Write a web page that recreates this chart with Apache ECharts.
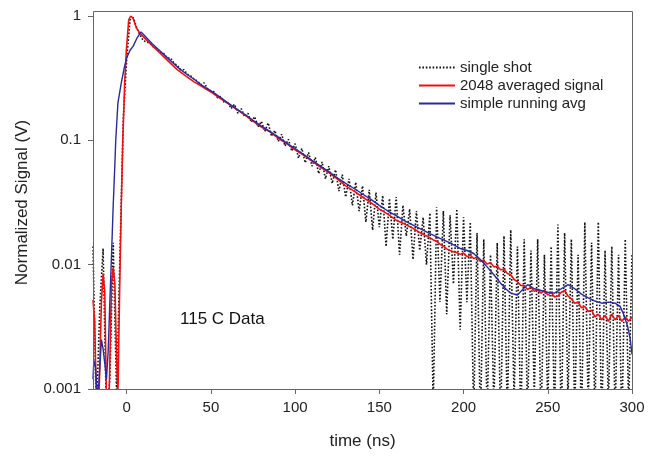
<!DOCTYPE html>
<html>
<head>
<meta charset="utf-8">
<script src="https://cdn.jsdelivr.net/npm/echarts@6/dist/echarts.min.js"></script>
<style>
  html, body { margin: 0; padding: 0; background: #fff; }
  #chart { width: 648px; height: 457px; }
</style>
</head>
<body>
<div id="chart"></div>
<script>
// tick labels
const xTicks = [0, 50, 100, 150, 200, 250, 300];
const yTickLabels = ['0.001', '0.01', '0.1', '1'];

// single shot, sampled every 2 ns from -20 to 300
const shotStart = -20;
const shotStep = 2;
const shotVal = [
  0.014, 0.0006, 0.0045, 0.0135, 0.0006, 0.0012, 0.015, 0.0009, 0.012, 0.15,   // -20
  0.45, 0.93, 0.97, 0.80, 0.70, 0.63, 0.62, 0.60, 0.56, 0.55,                   // 0
  0.51, 0.50, 0.46, 0.46, 0.42, 0.40, 0.37, 0.37, 0.34, 0.33,                   // 20
  0.31, 0.30, 0.28, 0.29, 0.26, 0.25, 0.245, 0.22, 0.225, 0.20,                 // 40
  0.205, 0.18, 0.195, 0.165, 0.18, 0.155, 0.165, 0.14, 0.155, 0.128,            // 60
  0.142, 0.118, 0.138, 0.108, 0.12, 0.098, 0.112, 0.09, 0.102, 0.082,           // 80
  0.094, 0.072, 0.086, 0.066, 0.08, 0.062, 0.073, 0.054, 0.067, 0.049,          // 100
  0.062, 0.045, 0.058, 0.039, 0.053, 0.035, 0.049, 0.03, 0.046, 0.027,          // 120
  0.043, 0.022, 0.040, 0.019, 0.038, 0.02, 0.036, 0.014, 0.034, 0.016,          // 140
  0.035, 0.012, 0.03, 0.017, 0.028, 0.011, 0.027, 0.013, 0.024, 0.01,           // 160
  0.026, 0.0007, 0.029, 0.005, 0.027, 0.004, 0.025, 0.007, 0.028, 0.003,        // 180
  0.024, 0.005, 0.022, 0.0006, 0.018, 0.0005, 0.016, 0.0006, 0.012, 0.0007,     // 200
  0.015, 0.0005, 0.017, 0.0006, 0.019, 0.0008, 0.014, 0.0005, 0.016, 0.0006,    // 220
  0.013, 0.0009, 0.016, 0.0005, 0.012, 0.0007, 0.014, 0.0006, 0.021, 0.0005,    // 240
  0.018, 0.0008, 0.016, 0.0006, 0.012, 0.0005, 0.022, 0.0007, 0.015, 0.0006,    // 260
  0.022, 0.0005, 0.013, 0.0007, 0.014, 0.0006, 0.012, 0.0005, 0.016, 0.0007,    // 280
  0.012                                                                         // 300
];

// 2048 averaged signal
const avgTime = [
  -20, -19, -18, -16.5, -15, -14, -13, -12, -10.5, -9, -8, -7, -6, -5.2, -4.2, -3.2, -2.3, -1.2, -0.2,
  1.2, 2.4, 3.8, 5.8, 7.7, 10, 15, 20, 25, 30, 35, 40, 45, 50, 55, 60, 65, 70, 75, 80, 85, 90, 95,
  100, 105, 110, 115, 120, 125, 130, 135, 140, 145, 150, 155, 160, 165, 170, 175, 180,
  182, 184, 186, 188, 190, 192, 194, 196, 198, 200,
  202, 204, 206, 208, 210, 212, 214, 216, 218, 220,
  222, 224, 226, 228, 230, 232, 234, 236, 238, 240,
  242, 244, 246, 248, 250, 252, 254, 256, 258, 260,
  262, 264, 266, 268, 270, 272, 274, 276, 278, 280,
  282, 284, 286, 288, 290, 292, 294, 296, 298, 300
];
const avgVal = [
  0.0052, 0.0035, 0.0008, 0.0008, 0.005, 0.0085, 0.006, 0.0008, 0.0008, 0.007, 0.0095, 0.007, 0.0018, 0.0009, 0.006, 0.03, 0.1, 0.29, 0.53,
  0.93, 1.0, 0.96, 0.80, 0.73, 0.68, 0.58, 0.50, 0.43, 0.37, 0.33, 0.295, 0.27, 0.245, 0.22, 0.198, 0.178, 0.16, 0.143, 0.128, 0.117, 0.104, 0.094,
  0.084, 0.076, 0.068, 0.061, 0.055, 0.049, 0.043, 0.039, 0.035, 0.0315, 0.028, 0.0255, 0.0228, 0.0212, 0.0196, 0.0178, 0.0165,
  0.0158, 0.0154, 0.0146, 0.0141, 0.0134, 0.0130, 0.0127, 0.0125, 0.0121, 0.0124,
  0.0116, 0.0119, 0.0112, 0.0115, 0.0106, 0.0108, 0.0101, 0.0104, 0.0096, 0.0097,
  0.0091, 0.0092, 0.0085, 0.0083, 0.0076, 0.0073, 0.0068, 0.0068, 0.0063, 0.0066,
  0.0061, 0.0063, 0.0059, 0.0062, 0.0057, 0.0060, 0.0055, 0.0056, 0.0060, 0.0062,
  0.0056, 0.0053, 0.0049, 0.0050, 0.0045, 0.0046, 0.0042, 0.0043, 0.0038, 0.0040,
  0.0036, 0.0039, 0.0035, 0.0040, 0.0036, 0.0039, 0.0035, 0.0038, 0.0035, 0.0038
];

// simple running avg
const runTime = [
  -20, -19.5, -18.5, -17.5, -16.5, -15, -14, -13, -12, -11, -10, -9, -8, -7, -6.5, -5.2, -3.2, -1.5,
  0, 2, 3.8, 6, 8.5, 10, 15, 20, 25, 30, 35, 40, 45, 50, 55, 60, 65, 70, 75, 80, 85, 90, 95,
  100, 105, 110, 115, 120, 125, 130, 135, 140, 145, 150, 155, 160, 165, 170, 175, 180,
  186, 192, 198, 202, 206, 210, 214, 218, 222, 225, 228, 232, 235, 238, 242, 246, 250, 254,
  258, 262, 266, 270, 274, 278, 282, 286, 290, 293, 295, 297.4, 299, 300
];
const runVal = [
  0.0012, 0.0017, 0.0015, 0.0009, 0.0011, 0.0025, 0.0021, 0.0016, 0.0012, 0.002, 0.005, 0.012, 0.03, 0.065, 0.1, 0.2, 0.29, 0.38,
  0.46, 0.53, 0.57, 0.66, 0.745, 0.71, 0.60, 0.52, 0.45, 0.39, 0.345, 0.31, 0.275, 0.25, 0.225, 0.2, 0.18, 0.162, 0.145, 0.13, 0.118, 0.106, 0.095,
  0.086, 0.077, 0.069, 0.062, 0.056, 0.050, 0.045, 0.041, 0.037, 0.0335, 0.030, 0.027, 0.0248, 0.0225, 0.0208, 0.0192, 0.0178,
  0.0163, 0.0150, 0.0135, 0.0130, 0.0123, 0.0110, 0.0096, 0.0083, 0.0071, 0.0064, 0.0059, 0.0057, 0.0063, 0.0069, 0.0064, 0.0062, 0.0060, 0.0059,
  0.0064, 0.0069, 0.0064, 0.0058, 0.0054, 0.0051, 0.0049, 0.0050, 0.0049, 0.0046, 0.0040, 0.0032, 0.0025, 0.0019
];

const font = 'Liberation Sans, Arial, Helvetica, sans-serif';

function pairs(times, vals) {
  return vals.map((v, i) => [times[i], v]);
}

const shotTime = shotVal.map((v, i) => shotStart + i * shotStep);

function getOptions() {
  return {
    animation: false,
    backgroundColor: '#fff',
    textStyle: { fontFamily: font },
    grid: { left: 93, top: 16, width: 539, height: 373 },
    legend: {
      orient: 'vertical',
      left: 413,
      top: 55,
      itemWidth: 36,
      itemHeight: 14,
      itemGap: 3,
      itemStyle: { opacity: 0 },
      textStyle: { fontSize: 15, color: '#222', fontFamily: font },
      data: ['single shot', '2048 averaged signal', 'simple running avg'],
    },
    xAxis: {
      type: 'value',
      min: -20,
      max: 300,
      name: 'time (ns)',
      nameLocation: 'middle',
      nameGap: 44,
      nameTextStyle: { fontSize: 17, color: '#222', fontFamily: font },
      axisLine: { onZero: false, lineStyle: { color: '#666' } },
      axisTick: { customValues: xTicks, length: 5, lineStyle: { color: '#666' } },
      axisLabel: { customValues: xTicks, fontSize: 15, color: '#222', margin: 11, fontFamily: font },
      splitLine: { show: false },
    },
    yAxis: {
      type: 'log',
      logBase: 10,
      min: 0.001,
      max: 1,
      name: 'Normalized Signal (V)',
      nameLocation: 'middle',
      nameGap: 62,
      nameTextStyle: { fontSize: 17, color: '#222', fontFamily: font },
      axisLine: { show: true, onZero: false, lineStyle: { color: '#666' } },
      axisTick: { show: true, length: 5, lineStyle: { color: '#666' } },
      minorTick: { show: false },
      axisLabel: {
        fontSize: 15,
        color: '#222',
        margin: 12,
        fontFamily: font,
        formatter: (v) => yTickLabels[Math.round(Math.log10(v)) + 3],
      },
      splitLine: { show: false },
    },
    graphic: [
      {
        type: 'rect',
        silent: true,
        z: 100,
        shape: { x: 93.5, y: 11.5, width: 539, height: 378 },
        style: { fill: 'none', stroke: '#666', lineWidth: 1 },
      },
      {
        type: 'text',
        left: 180,
        top: 311,
        style: { text: '115 C Data', fontSize: 17, fill: '#111', fontFamily: font },
      },
    ],
    series: [
      {
        name: 'single shot',
        type: 'line',
        symbol: 'none',
        data: pairs(shotTime, shotVal),
        itemStyle: { color: '#111' },
        lineStyle: { color: '#111', width: 1.6, type: [1.6, 1.8] },
      },
      {
        name: '2048 averaged signal',
        type: 'line',
        symbol: 'none',
        data: pairs(avgTime, avgVal),
        itemStyle: { color: '#ee1111' },
        lineStyle: { color: '#ee1111', width: 1.6 },
      },
      {
        name: 'simple running avg',
        type: 'line',
        symbol: 'none',
        data: pairs(runTime, runVal),
        itemStyle: { color: '#2a2a9c' },
        lineStyle: { color: '#2a2a9c', width: 1.4 },
      },
    ],
  };
}

const charts = echarts.init(document.getElementById('chart'));
charts.setOption(getOptions());
</script>
</body>
</html>
